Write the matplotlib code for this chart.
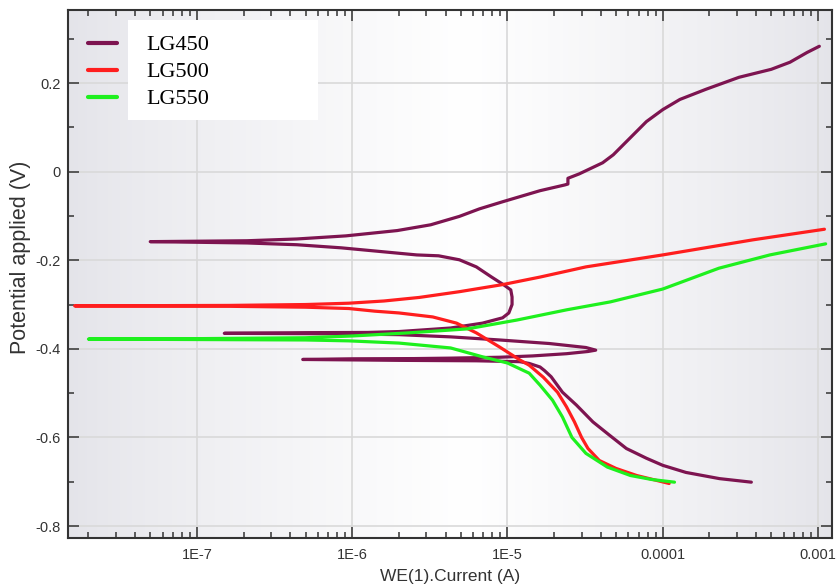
import numpy as np
import matplotlib
matplotlib.use("Agg")
import matplotlib.pyplot as plt
from matplotlib.ticker import FixedLocator, FixedFormatter, LogLocator, MultipleLocator, NullFormatter
from matplotlib.patches import Rectangle

# Potentiodynamic polarisation curves (current in A, potential in V)
series_names = ["LG450", "LG500", "LG550"]
series_colors = ["#7d1450", "#ff1e1e", "#1ef01e"]

lg450_current = [3.72e-4, 2.32e-4, 1.41e-4, 1.00e-4, 7.85e-5, 5.83e-5, 4.54e-5, 3.55e-5,
                 2.78e-5, 2.26e-5, 1.91e-5, 1.73e-5, 1.62e-5, 1.38e-5, 1.20e-5, 6.3e-6,
                 2.0e-6, 1.0e-6, 4.8e-7, 1.0e-6, 2.5e-6, 4.3e-6, 8.9e-6, 1.45e-5,
                 2.4e-5, 3.3e-5, 3.7e-5, 3.2e-5, 1.86e-5, 8.9e-6, 4.3e-6, 2.0e-6,
                 7.4e-7, 1.5e-7, 5.0e-7, 1.26e-6, 2.0e-6, 4.3e-6, 6.9e-6, 9.3e-6,
                 1.02e-5, 1.07e-5, 1.07e-5, 1.05e-5, 9.5e-6, 7.9e-6, 6.3e-6, 4.9e-6,
                 3.6e-6, 2.6e-6, 8.5e-7, 4.4e-7, 2.1e-7, 5.0e-8, 2.1e-7, 4.4e-7,
                 9.1e-7, 1.95e-6, 3.2e-6, 4.9e-6, 6.6e-6, 9.3e-6, 1.62e-5, 2.34e-5,
                 2.45e-5, 2.45e-5, 2.9e-5, 4.1e-5, 4.8e-5, 6.2e-5, 7.85e-5, 1.00e-4,
                 1.29e-4, 1.9e-4, 3.1e-4, 5.0e-4, 6.6e-4, 8.5e-4, 1.02e-3]
lg450_potential = [-0.701, -0.693, -0.679, -0.663, -0.647, -0.625, -0.595, -0.565,
                   -0.527, -0.498, -0.463, -0.449, -0.441, -0.433, -0.429, -0.427,
                   -0.426, -0.425, -0.424, -0.4225, -0.422, -0.421, -0.419, -0.416,
                   -0.411, -0.406, -0.403, -0.397, -0.388, -0.380, -0.373, -0.368,
                   -0.366, -0.365, -0.3635, -0.363, -0.361, -0.353, -0.342, -0.330,
                   -0.319, -0.300, -0.283, -0.267, -0.256, -0.238, -0.215, -0.199,
                   -0.190, -0.188, -0.172, -0.165, -0.161, -0.158, -0.156, -0.152,
                   -0.145, -0.133, -0.120, -0.101, -0.084, -0.068, -0.043, -0.030,
                   -0.028, -0.015, -0.005, 0.020, 0.038, 0.077, 0.113, 0.140,
                   0.163, 0.186, 0.213, 0.231, 0.247, 0.269, 0.283]

lg500_current = [1.10e-4, 6.8e-5, 5.0e-5, 3.9e-5, 3.3e-5, 3.0e-5, 2.7e-5, 2.4e-5,
                 2.1e-5, 1.7e-5, 1.38e-5, 1.20e-5, 8.9e-6, 6.3e-6, 4.7e-6, 3.3e-6,
                 2.0e-6, 1.4e-6, 9.5e-7, 5.0e-7, 1.6e-7, 5.0e-8, 1.63e-8, 5.0e-8,
                 1.6e-7, 5.0e-7, 9.5e-7, 1.6e-6, 2.7e-6, 4.9e-6, 9.3e-6, 1.62e-5,
                 3.2e-5, 1.0e-4, 3.8e-4, 1.10e-3]
lg500_potential = [-0.704, -0.686, -0.670, -0.652, -0.625, -0.600, -0.565, -0.531,
                   -0.498, -0.464, -0.437, -0.425, -0.396, -0.364, -0.342, -0.328,
                   -0.319, -0.315, -0.309, -0.306, -0.304, -0.3035, -0.303, -0.3025,
                   -0.302, -0.300, -0.297, -0.292, -0.284, -0.271, -0.255, -0.238,
                   -0.215, -0.188, -0.154, -0.130]

lg550_current = [1.19e-4, 8.5e-5, 6.2e-5, 4.4e-5, 3.2e-5, 2.6e-5, 2.26e-5, 1.95e-5,
                 1.62e-5, 1.38e-5, 1.0e-5, 6.9e-6, 4.3e-6, 2.0e-6, 9.5e-7, 5.0e-7,
                 1.0e-7, 2.0e-8, 1.0e-7, 5.0e-7, 1.0e-6, 2.3e-6, 5.5e-6, 1.15e-5,
                 2.4e-5, 4.6e-5, 1.0e-4, 2.3e-4, 4.9e-4, 1.12e-3]
lg550_potential = [-0.701, -0.695, -0.686, -0.667, -0.636, -0.600, -0.554, -0.516,
                   -0.482, -0.455, -0.432, -0.418, -0.398, -0.387, -0.382, -0.380,
                   -0.379, -0.378, -0.377, -0.375, -0.371, -0.364, -0.355, -0.335,
                   -0.312, -0.294, -0.265, -0.218, -0.188, -0.163]

x_tick_values = [1e-7, 1e-6, 1e-5, 1e-4, 1e-3]
x_tick_labels = ["1E-7", "1E-6", "1E-5", "0.0001", "0.001"]
y_tick_values = [-0.8, -0.6, -0.4, -0.2, 0.0, 0.2]
y_tick_labels = ["-0.8", "-0.6", "-0.4", "-0.2", "0", "0.2"]

plt.rcParams["font.family"] = ["Liberation Sans", "DejaVu Sans"]

fig = plt.figure(figsize=(8.37, 5.87), dpi=100)
ax = fig.add_axes([0.0812, 0.0835, 0.9128, 0.9003])

# horizontal grey-white-grey plot-area shading
f = np.linspace(0, 1, 400)
edge = np.array([0.893, 0.893, 0.915])
shade = np.where(f < 0.52, f / 0.52, (1 - f) / 0.48)
shade = np.clip(shade, 0, 1) ** 0.8
grad = edge[None, :] + (1 - edge[None, :]) * shade[:, None]
ax.imshow(grad[None, :, :], extent=[0, 1, 0, 1], transform=ax.transAxes,
          aspect="auto", zorder=0, interpolation="bilinear")

curves = [(lg450_current, lg450_potential), (lg500_current, lg500_potential),
          (lg550_current, lg550_potential)]
handles = []
for (cur, pot), name, col in zip(curves, series_names, series_colors):
    h, = ax.plot(cur, pot, color=col, lw=2.3, label=name, zorder=3,
                 solid_capstyle="round", solid_joinstyle="round")
    handles.append(h)

ax.set_xscale("log")
ax.set_xlim(10 ** -7.831, 10 ** -2.91)
ax.set_ylim(-0.827, 0.366)

ax.xaxis.set_major_locator(FixedLocator(x_tick_values))
ax.xaxis.set_major_formatter(FixedFormatter(x_tick_labels))
ax.xaxis.set_minor_locator(LogLocator(base=10, subs=np.arange(2, 10)))
ax.xaxis.set_minor_formatter(NullFormatter())
ax.yaxis.set_major_locator(FixedLocator(y_tick_values))
ax.yaxis.set_major_formatter(FixedFormatter(y_tick_labels))
ax.yaxis.set_minor_locator(MultipleLocator(0.1))

ax.grid(True, which="major", color="#d9d9d9", lw=1.2, zorder=1)
ax.set_axisbelow(True)

for s in ax.spines.values():
    s.set_color("#333333")
    s.set_linewidth(1.5)
    s.set_zorder(5)

ax.tick_params(which="both", direction="in", top=True, right=True,
               color="#333333", width=1.1, labelcolor="#333333", labelsize=10.5)
ax.tick_params(which="major", length=8)
ax.tick_params(which="minor", length=4)
ax.tick_params(axis="x", pad=7)
ax.tick_params(axis="y", pad=5)

ax.set_xlabel("WE(1).Current (A)", fontsize=12.5, color="#333333")
ax.set_ylabel("Potential applied (V)", fontsize=15.5, color="#333333")
ax.xaxis.set_label_coords(0.5, -0.058)
ax.yaxis.set_label_coords(-0.049, 0.532)

# white label panel with keys to its left
ax.add_patch(Rectangle((0.0785, 0.791), 0.2485, 0.189, transform=ax.transAxes,
                       facecolor="white", edgecolor="none", zorder=6))
leg = ax.legend(handles=handles, loc="upper left", bbox_to_anchor=(0.026, 0.952),
                frameon=False, borderpad=0, borderaxespad=0,
                handlelength=1.3, handletextpad=1.35, labelspacing=0.29,
                prop={"family": "Liberation Serif", "size": 16})
leg.set_zorder(7)
for lh in leg.get_lines():
    lh.set_linewidth(3)

fig.savefig("out.png", dpi=100, facecolor="white")
